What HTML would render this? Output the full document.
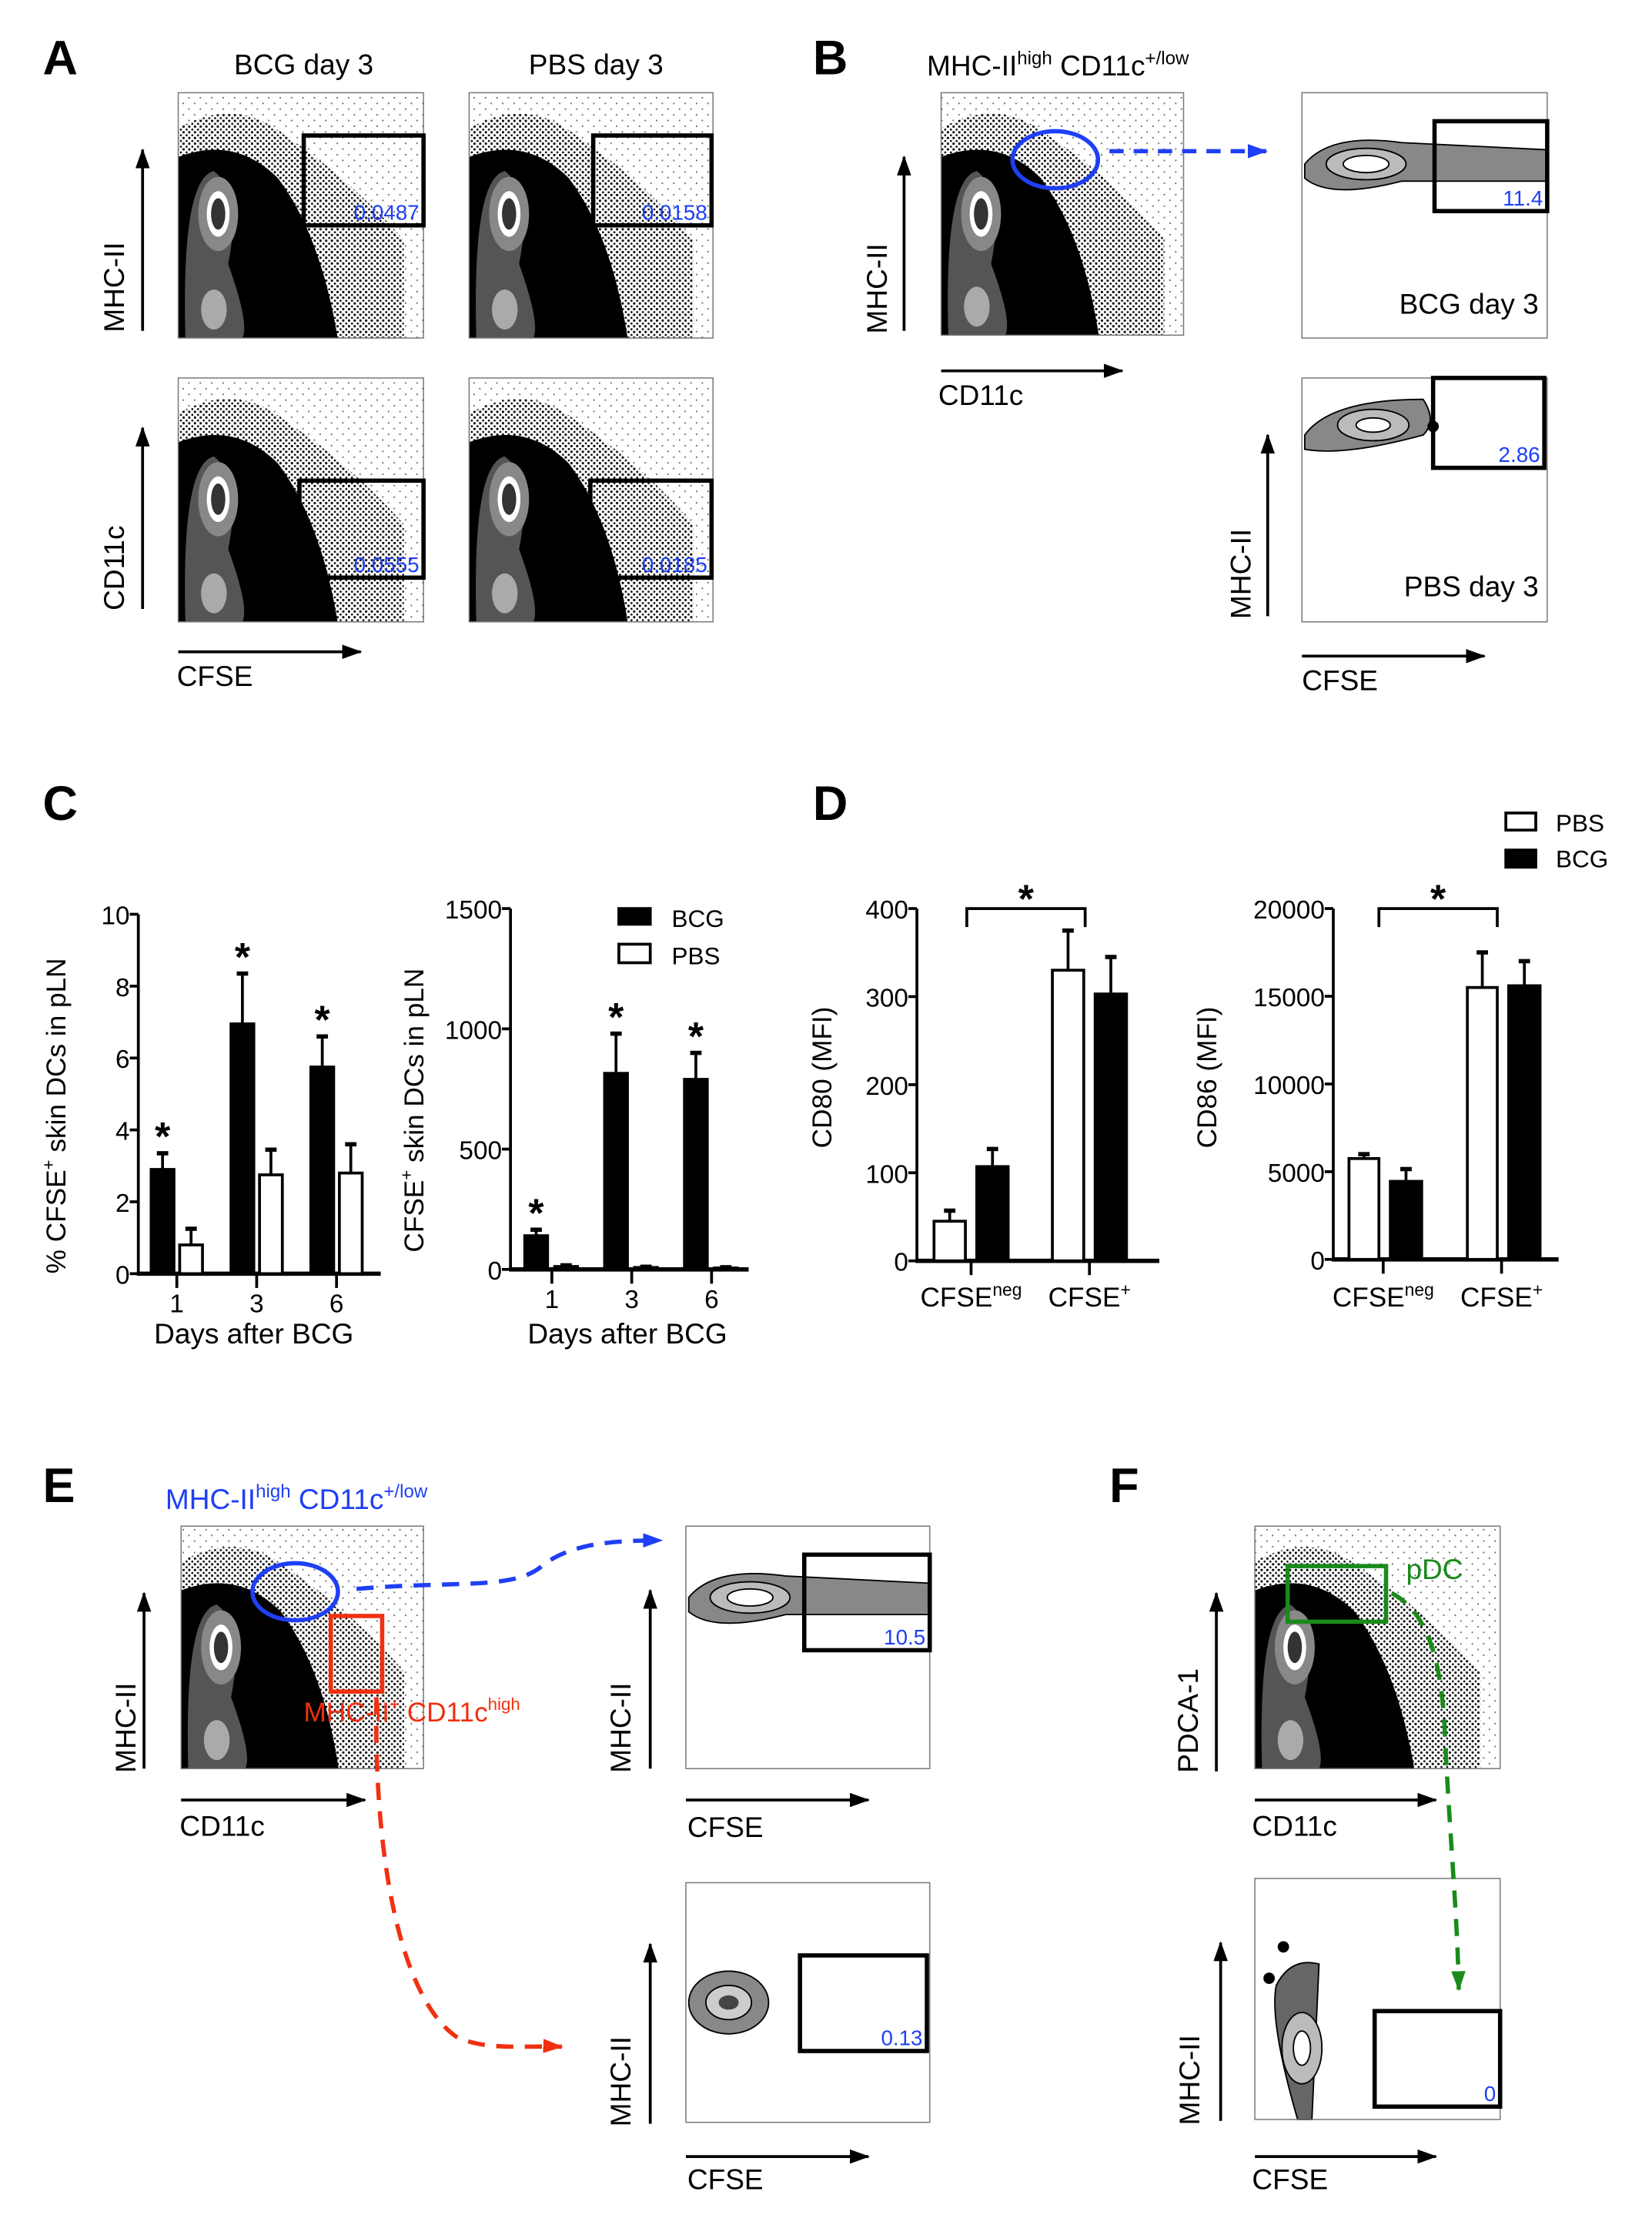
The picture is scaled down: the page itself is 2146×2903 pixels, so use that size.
<!DOCTYPE html>
<html><head><meta charset="utf-8"><style>
html,body{margin:0;padding:0;background:#fff}
svg{display:block}
text{font-family:"Liberation Sans",Arial,sans-serif;fill:#000}
</style></head><body>
<svg width="2146" height="2903" viewBox="0 0 1158.5 1567" preserveAspectRatio="none" xmlns="http://www.w3.org/2000/svg">
<defs>
<pattern id="dots" width="4" height="4" patternUnits="userSpaceOnUse"><rect width="1.5" height="1.5" fill="#000"/><rect x="2.2" y="2.2" width="1.3" height="1.3" fill="#000"/></pattern>
<pattern id="sparse" width="8" height="8" patternUnits="userSpaceOnUse"><rect width="1" height="1" fill="#000"/><rect x="4" y="4" width="1" height="1" fill="#000"/></pattern>
<marker id="ah" markerUnits="userSpaceOnUse" markerWidth="14" markerHeight="10" refX="13" refY="5" orient="auto"><path d="M0,0 L14,5 L0,10 z" fill="#000"/></marker>
<marker id="ahb" markerUnits="userSpaceOnUse" markerWidth="14" markerHeight="10" refX="13" refY="5" orient="auto"><path d="M0,0 L14,5 L0,10 z" fill="#1f3ff5"/></marker>
<marker id="ahr" markerUnits="userSpaceOnUse" markerWidth="14" markerHeight="10" refX="13" refY="5" orient="auto"><path d="M0,0 L14,5 L0,10 z" fill="#f03010"/></marker>
<marker id="ahg" markerUnits="userSpaceOnUse" markerWidth="14" markerHeight="10" refX="13" refY="5" orient="auto"><path d="M0,0 L14,5 L0,10 z" fill="#1a8a1a"/></marker>
</defs>
<g id="root"></g>
</svg>
<script>
const NS='http://www.w3.org/2000/svg';
const root=document.getElementById('root');
function el(tag,attrs,parent,txt){const e=document.createElementNS(NS,tag);for(const k in attrs)e.setAttribute(k,attrs[k]);if(txt!==undefined)e.textContent=txt;(parent||root).appendChild(e);return e;}

// ---------- Chart data ----------
const cDays=['1','3','6'];
const c1BCG=[2.9,6.95,5.75], c1BCGerr=[0.45,1.4,0.85];
const c1PBS=[0.8,2.75,2.8], c1PBSerr=[0.45,0.7,0.8];
const c1Ticks=[0,2,4,6,8,10];
const c2BCG=[140,815,790], c2BCGerr=[25,165,110];
const c2PBS=[12,8,6], c2PBSerr=[5,3,3];
const c2Ticks=[0,500,1000,1500];
const dCats=['CFSE','CFSE'];
const dCatSup=['neg','+'];
const d1PBS=[45,330], d1PBSerr=[12,45];
const d1BCG=[107,303], d1BCGerr=[20,42];
const d1Ticks=[0,100,200,300,400];
const d2PBS=[5750,15500], d2PBSerr=[250,2000];
const d2BCG=[4450,15600], d2BCGerr=[700,1400];
const d2Ticks=[0,5000,10000,15000,20000];

// ---------- Flow plot helper ----------
function flow(name,x,y,w,h,type){
  const g=el('g',{});
  
  
  el('rect',{x:x,y:y,width:w,height:h,fill:'#fff'},g);
  if(type==='scatter'){
    el('rect',{x:x,y:y,width:w,height:h,fill:'url(#sparse)',opacity:0.6},g);
    el('path',{d:`M${x},${y+h} L${x},${y+25} Q${x+40},${y+2} ${x+75},${y+30} Q${x+120},${y+60} ${x+w*0.92},${y+h*0.6} L${x+w*0.92},${y+h} Z`,fill:'url(#dots)'},g);
    el('path',{d:`M${x},${y+h} L${x},${y+45} Q${x+40},${y+30} ${x+70},${y+60} Q${x+100},${y+100} ${x+w*0.65},${y+h} Z`,fill:'#000'},g);
    el('path',{d:`M${x+5},${y+h} Q${x+2},${y+60} ${x+25},${y+55} Q${x+45},${y+70} ${x+35},${y+120} Q${x+50},${y+h-10} ${x+45},${y+h} Z`,fill:'#555'},g);
    el('ellipse',{cx:x+28,cy:y+85,rx:14,ry:26,fill:'#888'},g);
    el('ellipse',{cx:x+28,cy:y+85,rx:8,ry:16,fill:'#fff'},g);
    el('ellipse',{cx:x+28,cy:y+85,rx:5,ry:11,fill:'#333'},g);
    el('ellipse',{cx:x+25,cy:y+h-20,rx:9,ry:14,fill:'#aaa'},g);
  } else if(type==='band'){
    el('path',{d:`M${x+2},${y+50} Q${x+20},${y+28} ${x+70},${y+35} L${x+w},${y+40} L${x+w},${y+62} L${x+70},${y+62} Q${x+20},${y+75} ${x+2},${y+60} Z`,fill:'#888',stroke:'#000'},g);
    el('ellipse',{cx:x+45,cy:y+50,rx:28,ry:11,fill:'#bbb',stroke:'#000'},g);
    el('ellipse',{cx:x+45,cy:y+50,rx:16,ry:6,fill:'#fff',stroke:'#000'},g);
  } else if(type==='band2'){
    el('path',{d:`M${x+2},${y+40} Q${x+20},${y+15} ${x+85},${y+15} Q${x+95},${y+30} ${x+85},${y+40} Q${x+30},${y+55} ${x+2},${y+50} Z`,fill:'#888',stroke:'#000'},g);
    el('ellipse',{cx:x+50,cy:y+33,rx:25,ry:11,fill:'#bbb',stroke:'#000'},g);
    el('ellipse',{cx:x+50,cy:y+33,rx:12,ry:5,fill:'#fff',stroke:'#000'},g);
    el('circle',{cx:x+92,cy:y+34,r:4,fill:'#000'},g);
  } else if(type==='blob'){
    el('ellipse',{cx:x+30,cy:y+h*0.5,rx:28,ry:22,fill:'#888',stroke:'#000'},g);
    el('ellipse',{cx:x+30,cy:y+h*0.5,rx:16,ry:12,fill:'#ccc',stroke:'#000'},g);
    el('ellipse',{cx:x+30,cy:y+h*0.5,rx:7,ry:5,fill:'#444'},g);
  } else if(type==='pdc'){
    el('path',{d:`M${x+30},${y+h} Q${x+10},${y+100} ${x+15},${y+75} Q${x+25},${y+55} ${x+45},${y+60} L${x+40},${y+h} Z`,fill:'#666',stroke:'#000'},g);
    el('ellipse',{cx:x+33,cy:y+h-50,rx:14,ry:25,fill:'#bbb',stroke:'#000'},g);
    el('ellipse',{cx:x+33,cy:y+h-50,rx:6,ry:12,fill:'#fff',stroke:'#000'},g);
    el('circle',{cx:x+20,cy:y+48,r:4,fill:'#000'},g);
    el('circle',{cx:x+10,cy:y+70,r:4,fill:'#000'},g);
  }
  el('rect',{x:x,y:y,width:w,height:h,fill:'none',stroke:'#777','stroke-width':0.8},g);
  return g;
}
function gate(name,x,y,w,h,val){
  const r=el('rect',{x:x,y:y,width:w,height:h,fill:'none',stroke:'#000','stroke-width':3});
  
  
  const t=el('text',{x:x+w-3,y:y+h-4,'font-size':15,'text-anchor':'end',fill:'#1f3ff5',style:'fill:#1f3ff5'},root,val);
  
  
}
function arrow(name,x1,y1,x2,y2){
  const l=el('line',{x1:x1,y1:y1,x2:x2,y2:y2,stroke:'#000','stroke-width':2,'marker-end':'url(#ah)'});
  
  
}
function label(name,x,y,txt,opts){
  opts=opts||{};
  const a={x:x,y:y,'font-size':opts.size||20};
  if(opts.anchor)a['text-anchor']=opts.anchor;
  if(opts.rot)a.transform=`rotate(-90 ${x} ${y})`;
  if(opts.bold)a['font-weight']='bold';
  if(opts.fill){a.style='fill:'+opts.fill;}
  const t=el('text',a,root,txt);
  
  
  return t;
}
function supLabel(name,x,y,base,sup,size,fill,anchor){
  const t=label(name,x,y,'',{size:size,fill:fill,anchor:anchor});
  el('tspan',{},t,base);
  el('tspan',{'font-size':size*0.65,dy:-size*0.4},t,sup);
  return t;
}

// Panel letters
[['A',30,52],['B',570,52],['C',30,575],['D',570,575],['E',30,1053],['F',778,1053]].forEach(p=>label('panel-'+p[0].toLowerCase()+'-letter',p[1],p[2],p[0],{size:34,bold:true}));

// ---------- Panel A ----------
label('a-title-bcg',213,52,'BCG day 3',{anchor:'middle'});
label('a-title-pbs',418,52,'PBS day 3',{anchor:'middle'});
flow('a-plot-bcg-mhc',125,65,172,172,'scatter');
flow('a-plot-pbs-mhc',329,65,171,172,'scatter');
flow('a-plot-bcg-cd11c',125,265,172,171,'scatter');
flow('a-plot-pbs-cd11c',329,265,171,171,'scatter');
gate('a-gate-bcg-mhc',213,95,84,63,'0.0487');
gate('a-gate-pbs-mhc',416,95,83,63,'0.0158');
gate('a-gate-bcg-cd11c',210,337,87,68,'0.0555');
gate('a-gate-pbs-cd11c',414,337,85,68,'0.0185');
arrow('a-y-arrow-top',100,232,100,105);
arrow('a-y-arrow-bottom',100,427,100,300);
arrow('a-x-arrow',125,457,253,457);
label('a-y-label-mhc',87,233,'MHC-II',{rot:true});
label('a-y-label-cd11c',87,428,'CD11c',{rot:true});
label('a-x-label-cfse',124,481,'CFSE');

// ---------- Panel B ----------
(function(){const t=label('b-gate-title',650,53,'MHC-II');el('tspan',{'font-size':13,dy:-8},t,'high');el('tspan',{dy:8},t,' CD11c');el('tspan',{'font-size':13,dy:-8},t,'+/low');})();
flow('b-plot-gating',660,65,170,170,'scatter');
const be=el('ellipse',{cx:740,cy:112,rx:30,ry:20,fill:'none',stroke:'#1f3ff5','stroke-width':3});

const bd=el('line',{x1:778,y1:106,x2:888,y2:106,stroke:'#1f3ff5','stroke-width':3,'stroke-dasharray':'10,7','marker-end':'url(#ahb)'});

arrow('b-y-arrow',634,232,634,110);
arrow('b-x-arrow',660,260,787,260);
label('b-y-label',622,234,'MHC-II',{rot:true});
label('b-x-label',658,284,'CD11c');
flow('b-plot-bcg',913,65,172,172,'band');
gate('b-gate-bcg',1006,85,79,63,'11.4');
label('b-plot-bcg-title',1079,220,'BCG day 3',{anchor:'end'});
flow('b-plot-pbs',913,265,172,171,'band2');
gate('b-gate-pbs',1005,265,78,63,'2.86');
label('b-plot-pbs-title',1079,418,'PBS day 3',{anchor:'end'});
arrow('b-y-arrow-2',889,432,889,305);
arrow('b-x-arrow-2',913,460,1041,460);
label('b-y-label-2',877,434,'MHC-II',{rot:true});
label('b-x-label-2',913,484,'CFSE');

// ---------- Bar chart helper ----------
function barChart(o){
  const g=el('g',{});
  
  
  const yS=v=>o.y0-(v/o.max)*(o.y0-o.y1);
  el('line',{x1:o.ax,y1:o.y1,x2:o.ax,y2:o.y0+1,stroke:'#000','stroke-width':2},g);
  el('line',{x1:o.ax-1,y1:o.y0,x2:o.ax2,y2:o.y0,stroke:'#000','stroke-width':3},g);
  o.ticks.forEach(t=>{
    const y=yS(t);
    el('line',{x1:o.ax-6,y1:y,x2:o.ax,y2:y,stroke:'#000','stroke-width':2},g);
    const tx=el('text',{x:o.ax-6,y:y+7,'font-size':18,'text-anchor':'end'},g,String(t));
    
    
  });
  o.centers.forEach((c,i)=>{
    el('line',{x1:c,y1:o.y0,x2:c,y2:o.y0+10,stroke:'#000','stroke-width':2},g);
    o.series.forEach((s,j)=>{
      const bx=c+s.off, v=s.vals[i], e=s.errs[i];
      const top=yS(v), et=yS(v+e);
      el('line',{x1:bx+s.w/2,y1:top,x2:bx+s.w/2,y2:et,stroke:'#000','stroke-width':2},g);
      el('line',{x1:bx+s.w/2-4,y1:et,x2:bx+s.w/2+4,y2:et,stroke:'#000','stroke-width':3},g);
      const r=el('rect',{x:bx,y:top,width:s.w,height:o.y0-top,fill:s.fill,stroke:'#000','stroke-width':2},g);
      
      
      if(s.star&&s.star[i]){
        const st=el('text',{x:bx+s.w/2,y:et-2,'font-size':28,'font-weight':'bold','text-anchor':'middle'},g,'*');
        
        
      }
    });
  });
  return {g,yS};
}

// ---------- Panel C ----------
const c1=barChart({name:'c-chart-percent',ax:97,ax2:267,y0:893,y1:641,max:10,ticks:c1Ticks,centers:[124,180,236],
  series:[{key:'bcg',vals:c1BCG,errs:c1BCGerr,off:-18,w:16,fill:'#000',star:[1,1,1]},{key:'pbs',vals:c1PBS,errs:c1PBSerr,off:2,w:16,fill:'#fff'}]});
cDays.forEach((d,i)=>{const t=el('text',{x:[124,180,236][i],y:920,'font-size':18,'text-anchor':'middle'},c1.g,d);});
label('c-x-title-1',178,942,'Days after BCG',{anchor:'middle'});
(function(){const t=label('c-y-title-1',46,893,'% CFSE',{rot:true,size:19});el('tspan',{'font-size':12,dy:-8},t,'+');el('tspan',{dy:8},t,' skin DCs in pLN');})();

const c2=barChart({name:'c-chart-count',ax:358,ax2:525,y0:890,y1:637,max:1500,ticks:c2Ticks,centers:[387,443,499],
  series:[{key:'bcg',vals:c2BCG,errs:c2BCGerr,off:-19,w:16,fill:'#000',star:[1,1,1]},{key:'pbs',vals:c2PBS,errs:c2PBSerr,off:2,w:16,fill:'#fff'}]});
cDays.forEach((d,i)=>{const t=el('text',{x:[387,443,499][i],y:917,'font-size':18,'text-anchor':'middle'},c2.g,d);});
label('c-x-title-2',440,942,'Days after BCG',{anchor:'middle'});
(function(){const t=label('c-y-title-2',297,878,'CFSE',{rot:true,size:19});el('tspan',{'font-size':12,dy:-8},t,'+');el('tspan',{dy:8},t,' skin DCs in pLN');})();
(function(){const r=el('rect',{x:433,y:636,width:24,height:13,fill:'#000'});
const r2=el('rect',{x:434,y:662,width:22,height:13,fill:'#fff',stroke:'#000','stroke-width':2});
label('c-legend-bcg',471,650,'BCG',{size:17});label('c-legend-pbs',471,676,'PBS',{size:17});})();

// ---------- Panel D ----------
const d1=barChart({name:'d-chart-cd80',ax:643,ax2:813,y0:884,y1:637,max:400,ticks:d1Ticks,centers:[681,764],
  series:[{key:'pbs',vals:d1PBS,errs:d1PBSerr,off:-26,w:22,fill:'#fff'},{key:'bcg',vals:d1BCG,errs:d1BCGerr,off:4,w:22,fill:'#000'}]});
const d2=barChart({name:'d-chart-cd86',ax:935,ax2:1093,y0:883,y1:637,max:20000,ticks:d2Ticks,centers:[970,1053],
  series:[{key:'pbs',vals:d2PBS,errs:d2PBSerr,off:-24,w:21,fill:'#fff'},{key:'bcg',vals:d2BCG,errs:d2BCGerr,off:5,w:22,fill:'#000'}]});
[[681,764],[970,1053]].forEach((cs,k)=>{
  cs.forEach((c,i)=>{supLabel('d-x-tick-label',c,916,dCats[i],dCatSup[i],19,null,'middle');});
  const b=el('path',{d:`M${cs[0]-3},650 L${cs[0]-3},637 L${cs[1]-3},637 L${cs[1]-3},650`,fill:'none',stroke:'#000','stroke-width':2});
  
  const s=el('text',{x:(cs[0]+cs[1])/2-3,y:640,'font-size':28,'font-weight':'bold','text-anchor':'middle'},root,'*');
  
});
label('d-y-title-1',583,805,'CD80 (MFI)',{rot:true,size:19});
label('d-y-title-2',853,805,'CD86 (MFI)',{rot:true,size:19});
(function(){const r=el('rect',{x:1056,y:570,width:21,height:12,fill:'#fff',stroke:'#000','stroke-width':2});
const r2=el('rect',{x:1055,y:595,width:23,height:14,fill:'#000'});
label('d-legend-pbs',1091,583,'PBS',{size:17});label('d-legend-bcg',1091,608,'BCG',{size:17});})();

// ---------- Panel E ----------
(function(){const t=label('e-gate-title-blue',116,1058,'MHC-II',{fill:'#1f3ff5'});el('tspan',{'font-size':13,dy:-8},t,'high');el('tspan',{dy:8},t,' CD11c');el('tspan',{'font-size':13,dy:-8},t,'+/low');})();
flow('e-plot-gating',127,1070,170,170,'scatter');
const ee=el('ellipse',{cx:207,cy:1116,rx:30,ry:20,fill:'none',stroke:'#1f3ff5','stroke-width':3});
const er=el('rect',{x:232,y:1133,width:36,height:53,fill:'none',stroke:'#f03010','stroke-width':3});
(function(){const t=label('e-gate-title-red',213,1207,'MHC-II',{fill:'#f03010',size:19});el('tspan',{'font-size':12,dy:-8},t,'+');el('tspan',{dy:8},t,' CD11c');el('tspan',{'font-size':12,dy:-8},t,'high');})();
arrow('e-y-arrow',101,1240,101,1117);
arrow('e-x-arrow',127,1262,256,1262);
label('e-y-label',95,1243,'MHC-II',{rot:true});
label('e-x-label',126,1287,'CD11c');
const eb=el('path',{d:'M250,1114 C320,1108 360,1115 380,1098 C400,1082 430,1080 464,1080',fill:'none',stroke:'#1f3ff5','stroke-width':3,'stroke-dasharray':'12,8','marker-end':'url(#ahb)'});
const erd=el('path',{d:'M264,1190 C262,1300 280,1400 320,1428 C340,1438 370,1434 394,1435',fill:'none',stroke:'#f03010','stroke-width':3,'stroke-dasharray':'12,8','marker-end':'url(#ahr)'});
flow('e-plot-blue',481,1070,171,170,'band');
gate('e-gate-blue',564,1090,88,67,'10.5');
arrow('e-y-arrow-2',456,1240,456,1115);
arrow('e-x-arrow-2',481,1262,609,1262);
label('e-y-label-2',442,1243,'MHC-II',{rot:true});
label('e-x-label-2',482,1288,'CFSE');
flow('e-plot-red',481,1320,171,168,'blob');
gate('e-gate-red',561,1371,89,67,'0.13');
arrow('e-y-arrow-3',456,1489,456,1363);
arrow('e-x-arrow-3',481,1512,609,1512);
label('e-y-label-3',442,1491,'MHC-II',{rot:true});
label('e-x-label-3',482,1535,'CFSE');

// ---------- Panel F ----------
flow('f-plot-gating',880,1070,172,170,'scatter');
const fg=el('rect',{x:903,y:1098,width:69,height:39,fill:'none',stroke:'#1a8a1a','stroke-width':3});
label('f-pdc-label',986,1107,'pDC',{fill:'#1a8a1a'});
arrow('f-y-arrow',853,1242,853,1117);
arrow('f-x-arrow',880,1262,1007,1262);
label('f-y-label',840,1243,'PDCA-1',{rot:true});
label('f-x-label',878,1287,'CD11c');
flow('f-plot-pdc',880,1317,172,169,'pdc');
gate('f-gate-pdc',964,1410,88,67,'0');
const fd=el('path',{d:'M976,1117 C1000,1130 1010,1160 1013,1210 C1016,1280 1022,1340 1023,1395',fill:'none',stroke:'#1a8a1a','stroke-width':3,'stroke-dasharray':'12,8','marker-end':'url(#ahg)'});
arrow('f-y-arrow-2',856,1487,856,1362);
arrow('f-x-arrow-2',880,1512,1007,1512);
label('f-y-label-2',841,1490,'MHC-II',{rot:true});
label('f-x-label-2',878,1535,'CFSE');
</script>
</body></html>
